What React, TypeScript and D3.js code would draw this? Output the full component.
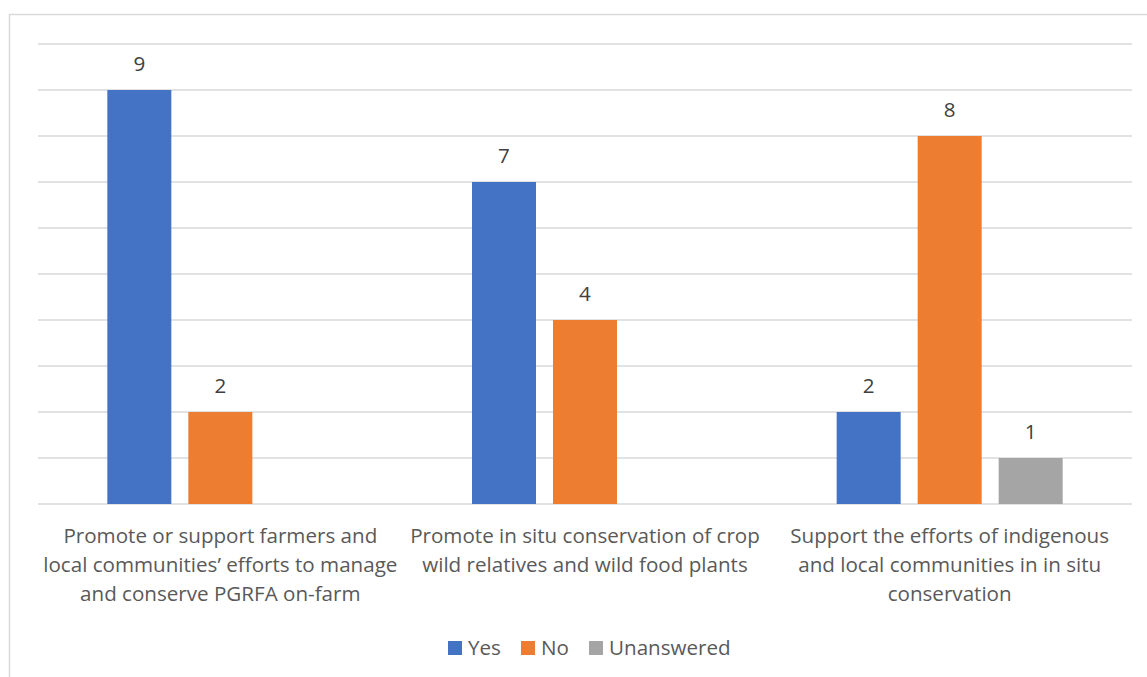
import React from "react";
import * as d3 from "d3";

const categories = [
  "Promote or support farmers and\nlocal communities’ efforts to manage\nand conserve PGRFA on-farm",
  "Promote in situ conservation of crop\nwild relatives and wild food plants",
  "Support the efforts of indigenous\nand local communities in in situ\nconservation",
];
const seriesNames = ["Yes", "No", "Unanswered"];
const seriesColors = ["#4472C4", "#ED7D31", "#A5A5A5"];
const yesValues = [9, 7, 2];
const noValues = [2, 4, 8];
const unansweredValues = [null, null, 1];
const yTicks = [0, 1, 2, 3, 4, 5, 6, 7, 8, 9, 10];

const W = 1147;
const H = 677;
const FONT = "'Open Sans', sans-serif";
const TEXT = "#595959";
const FS = 20.6;

export default function App() {
  const plotLeft = 38, plotRight = 1132, plotTop = 44, plotBottom = 504;
  const x0 = d3.scaleBand<number>().domain(d3.range(categories.length)).range([plotLeft, plotRight]).paddingInner(0).paddingOuter(0);
  const x1 = d3.scaleBand<number>().domain(d3.range(seriesNames.length)).range([0, 243]).padding(0);
  const y = d3.scaleLinear().domain([0, 10]).range([plotBottom, plotTop]);
  const allSeries = [yesValues, noValues, unansweredValues];
  const barW = 64;
  const groupW = 243;

  return (
    <svg width={W} height={H} style={{ position: "absolute", left: 0, top: 0 }} fontFamily={FONT}>
      <rect x={0} y={0} width={W} height={H} fill="#fff" />
      <rect x={9.5} y={14.5} width={W + 10} height={H + 10} fill="none" stroke="#D9D9D9" strokeWidth={1.5} />
      {yTicks.map((t) => (
        <line key={t} x1={plotLeft} x2={plotRight} y1={y(t)} y2={y(t)} stroke="#D9D9D9" strokeWidth={t === 0 ? 1.5 : 1.3} />
      ))}
      {categories.map((c, ci) => {
        const cx = x0(ci)! + x0.bandwidth() / 2;
        const gx = cx - groupW / 2;
        return (
          <g key={ci}>
            {allSeries.map((s, si) => {
              const v = s[ci];
              if (v == null) return null;
              const bx = gx + x1(si)! + (x1.bandwidth() - barW) / 2;
              return (
                <g key={si}>
                  <rect x={bx} y={y(v)} width={barW} height={y(0) - y(v)} fill={seriesColors[si]} />
                  <text x={bx + barW / 2} y={y(v) - 19} textAnchor="middle" fontSize={FS} fill="#404040">{v}</text>
                </g>
              );
            })}
            {c.split("\n").map((line, li) => (
              <text key={li} x={cx} y={543 + li * 29} textAnchor="middle" fontSize={FS} fill={TEXT}>{line}</text>
            ))}
          </g>
        );
      })}
      {(() => {
        const starts = [448, 521, 589];
        return seriesNames.map((n, i) => (
          <g key={n}>
            <rect x={starts[i]} y={641} width={14} height={14} fill={seriesColors[i]} />
            <text x={starts[i] + 20} y={655} fontSize={FS} fill={TEXT}>{n}</text>
          </g>
        ));
      })()}
    </svg>
  );
}
